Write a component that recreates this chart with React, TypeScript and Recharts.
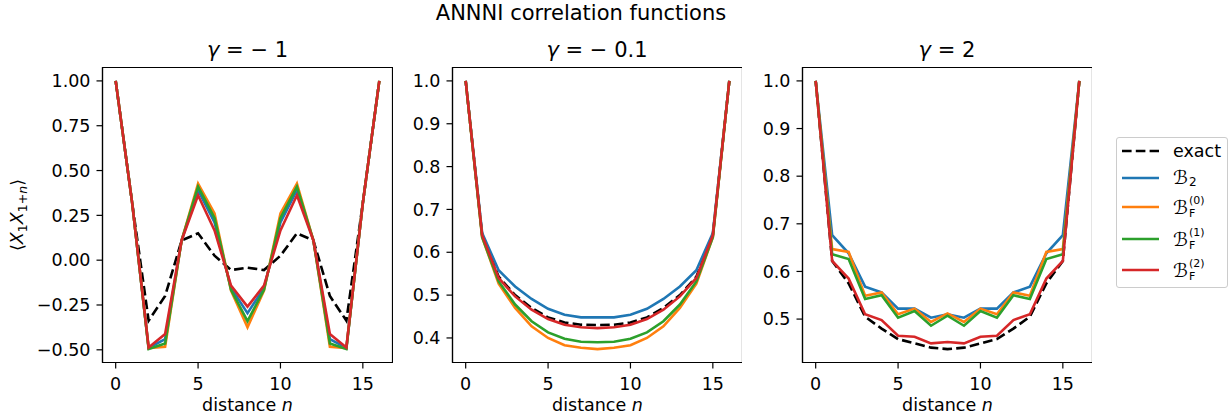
import { LineChart, Line, XAxis, YAxis, Label, ReferenceArea } from 'recharts'

const FONT = '"DejaVu Sans", sans-serif'

// distance n
const distances = [0, 1, 2, 3, 4, 5, 6, 7, 8, 9, 10, 11, 12, 13, 14, 15, 16]
const xTicks = [0, 5, 10, 15]

// gamma = -1
const exactG1 = [1.0, 0.32, -0.337, -0.2, 0.11, 0.15, 0.025, -0.055, -0.042, -0.055, 0.025, 0.15, 0.11, -0.2, -0.337, 0.32, 1.0]
const b2G1 = [1.0, 0.32, -0.49, -0.44, 0.11, 0.39, 0.21, -0.155, -0.296, -0.155, 0.21, 0.39, 0.11, -0.44, -0.49, 0.32, 1.0]
const bf0G1 = [1.0, 0.32, -0.49, -0.483, 0.11, 0.427, 0.26, -0.17, -0.375, -0.17, 0.26, 0.427, 0.11, -0.483, -0.49, 0.32, 1.0]
const bf1G1 = [1.0, 0.32, -0.496, -0.465, 0.11, 0.41, 0.235, -0.165, -0.34, -0.165, 0.235, 0.41, 0.11, -0.465, -0.496, 0.32, 1.0]
const bf2G1 = [1.0, 0.32, -0.487, -0.412, 0.11, 0.362, 0.166, -0.142, -0.259, -0.142, 0.166, 0.362, 0.11, -0.412, -0.487, 0.32, 1.0]
const yTicksG1 = [-0.5, -0.25, 0, 0.25, 0.5, 0.75, 1.0]

// gamma = -0.1
const exactG2 = [1.0, 0.64, 0.543, 0.5, 0.47, 0.448, 0.436, 0.431, 0.43, 0.431, 0.436, 0.448, 0.47, 0.5, 0.543, 0.64, 1.0]
const b2G2 = [1.0, 0.645, 0.558, 0.52, 0.491, 0.468, 0.454, 0.448, 0.448, 0.448, 0.454, 0.468, 0.491, 0.52, 0.558, 0.645, 1.0]
const bf0G2 = [1.0, 0.635, 0.527, 0.47, 0.427, 0.4, 0.383, 0.377, 0.374, 0.377, 0.383, 0.4, 0.427, 0.47, 0.527, 0.635, 1.0]
const bf1G2 = [1.0, 0.635, 0.532, 0.478, 0.439, 0.413, 0.398, 0.391, 0.39, 0.391, 0.398, 0.413, 0.439, 0.478, 0.532, 0.635, 1.0]
const bf2G2 = [1.0, 0.64, 0.54, 0.497, 0.466, 0.444, 0.431, 0.425, 0.423, 0.425, 0.431, 0.444, 0.466, 0.497, 0.54, 0.64, 1.0]
const yTicksG2 = [0.4, 0.5, 0.6, 0.7, 0.8, 0.9, 1.0]

// gamma = 2
const exactG3 = [1.0, 0.622, 0.575, 0.505, 0.48, 0.458, 0.449, 0.44, 0.437, 0.44, 0.449, 0.458, 0.48, 0.505, 0.575, 0.622, 1.0]
const b2G3 = [1.0, 0.676, 0.638, 0.568, 0.556, 0.522, 0.522, 0.503, 0.51, 0.503, 0.522, 0.522, 0.556, 0.568, 0.638, 0.676, 1.0]
const bf0G3 = [1.0, 0.647, 0.641, 0.549, 0.556, 0.51, 0.522, 0.494, 0.512, 0.494, 0.522, 0.51, 0.556, 0.549, 0.641, 0.647, 1.0]
const bf1G3 = [1.0, 0.636, 0.626, 0.542, 0.55, 0.503, 0.517, 0.486, 0.507, 0.486, 0.517, 0.503, 0.55, 0.542, 0.626, 0.636, 1.0]
const bf2G3 = [1.0, 0.622, 0.585, 0.51, 0.498, 0.465, 0.463, 0.449, 0.452, 0.449, 0.463, 0.465, 0.498, 0.51, 0.585, 0.622, 1.0]
const yTicksG3 = [0.5, 0.6, 0.7, 0.8, 0.9, 1.0]

const panelTitles = ['\u2212 1', '\u2212 0.1', '2']

const COLORS = { exact: '#000000', b2: '#1f77b4', bf0: '#ff7f0e', bf1: '#2ca02c', bf2: '#d62728' }

const PLOT_W = 290
const PLOT_H = 295
const Y_AXIS_W = 102.5
const TOP = 67.5
const CHART_H = 417
const PANEL_LEFTS = [0, 349.5, 699.5]

const fmt = (d: number) => (v: number) => (v < 0 ? '\u2212' : '') + Math.abs(v).toFixed(d)

function BLabel({ sub, sup }: { sub: string; sup?: string }) {
  return (
    <span style={{ display: 'inline-flex', alignItems: 'center' }}>
      <span style={{ fontSize: 19 }}>ℬ</span>
      {sup ? (
        <span style={{ display: 'inline-flex', flexDirection: 'column', fontSize: 11, lineHeight: '13px', marginLeft: 1 }}>
          <span>{sup}</span>
          <span>{sub}</span>
        </span>
      ) : (
        <span style={{ fontSize: 12, position: 'relative', top: 5, marginLeft: 1 }}>{sub}</span>
      )}
    </span>
  )
}

const legendItems = [
  { key: 'exact', dash: true, cy: 13, label: <span>exact</span> },
  { key: 'b2', dash: false, cy: 39.5, label: <BLabel sub="2" /> },
  { key: 'bf0', dash: false, cy: 69, label: <BLabel sub="F" sup="(0)" /> },
  { key: 'bf1', dash: false, cy: 101, label: <BLabel sub="F" sup="(1)" /> },
  { key: 'bf2', dash: false, cy: 132, label: <BLabel sub="F" sup="(2)" /> },
]

function Panel({ left, series, yTicks, decimals, yLabel }: any) {
  const rows = distances.map((n, i) => ({
    n,
    exact: series.exact[i],
    b2: series.b2[i],
    bf0: series.bf0[i],
    bf1: series.bf1[i],
    bf2: series.bf2[i],
  }))
  const all = [...series.exact, ...series.b2, ...series.bf0, ...series.bf1, ...series.bf2]
  const lo = Math.min(...all)
  const hi = Math.max(...all)
  const pad = (hi - lo) * 0.05
  const yDomain = [lo - pad, hi + pad]
  const xDomain = [-0.8, 16.8]
  const axisStyle = { stroke: '#000', strokeWidth: 1.2 }
  const tickStyle = { fill: '#000', fontSize: 17.5, fontFamily: FONT }

  return (
    <div style={{ position: 'absolute', left, top: 0 }}>
      <LineChart
        width={Y_AXIS_W + PLOT_W}
        height={CHART_H}
        data={rows}
        margin={{ top: TOP, right: 0, bottom: 0, left: 0 }}
        style={{ fontFamily: FONT }}
      >
        <XAxis
          dataKey="n"
          type="number"
          domain={xDomain}
          ticks={xTicks}
          allowDataOverflow
          height={CHART_H - TOP - PLOT_H}
          axisLine={axisStyle}
          tickLine={axisStyle}
          tickSize={6}
          tickMargin={9}
          tick={tickStyle}
        >
          <Label
            content={(p: any) => (
              <text x={p.viewBox.x + p.viewBox.width / 2} y={411} textAnchor="middle" fontSize={17.5} fontFamily={FONT} fill="#000">
                distance <tspan fontStyle="italic">n</tspan>
              </text>
            )}
          />
        </XAxis>
        <YAxis
          type="number"
          domain={yDomain}
          ticks={yTicks}
          allowDataOverflow
          width={Y_AXIS_W}
          axisLine={axisStyle}
          tickLine={axisStyle}
          tickSize={6}
          tickMargin={6}
          tick={tickStyle}
          tickFormatter={fmt(decimals)}
        >
          {yLabel ? (
            <Label
              content={(p: any) => {
                const cx = 23
                const cy = p.viewBox.y + p.viewBox.height / 2
                return (
                  <text x={cx} y={cy} transform={`rotate(-90, ${cx}, ${cy})`} textAnchor="middle" fontSize={17.5} fontFamily={FONT} fill="#000">
                    <tspan>⟨</tspan>
                    <tspan fontStyle="italic">X</tspan>
                    <tspan fontSize={12.5} dy={4}>1</tspan>
                    <tspan fontStyle="italic" dy={-4}>X</tspan>
                    <tspan fontSize={12.5} dy={4}>1+</tspan>
                    <tspan fontSize={12.5} fontStyle="italic">n</tspan>
                    <tspan dy={-4}>⟩</tspan>
                  </text>
                )
              }}
            />
          ) : null}
        </YAxis>
        <Line dataKey="exact" stroke={COLORS.exact} strokeWidth={2.6} strokeDasharray="9.6 4.2" dot={false} isAnimationActive={false} />
        <Line dataKey="b2" stroke={COLORS.b2} strokeWidth={2.6} dot={false} isAnimationActive={false} />
        <Line dataKey="bf0" stroke={COLORS.bf0} strokeWidth={2.6} dot={false} isAnimationActive={false} />
        <Line dataKey="bf1" stroke={COLORS.bf1} strokeWidth={2.6} dot={false} isAnimationActive={false} />
        <Line dataKey="bf2" stroke={COLORS.bf2} strokeWidth={2.6} dot={false} isAnimationActive={false} />
        <ReferenceArea
          x1={xDomain[0]}
          x2={xDomain[1]}
          y1={yDomain[0]}
          y2={yDomain[1]}
          fill="none"
          fillOpacity={0}
          stroke="#000"
          strokeWidth={1.2}
          ifOverflow="visible"
        />
      </LineChart>
    </div>
  )
}

export default function App() {
  return (
    <div style={{ position: 'absolute', left: 0, top: 0, width: 1232, height: 417, background: '#fff', overflow: 'hidden', fontFamily: FONT }}>
      <svg width={1232} height={66} style={{ position: 'absolute', left: 0, top: 0 }}>
        <text x={581} y={19.5} textAnchor="middle" fontSize={21} fontFamily={FONT} fill="#000">
          ANNNI correlation functions
        </text>
        {panelTitles.map((t, i) => (
          <text key={i} x={PANEL_LEFTS[i] + Y_AXIS_W + PLOT_W / 2} y={57} textAnchor="middle" fontSize={21} fontFamily={FONT} fill="#000">
            <tspan fontStyle="italic">γ</tspan> = {t}
          </text>
        ))}
      </svg>
      <Panel left={PANEL_LEFTS[0]} series={{ exact: exactG1, b2: b2G1, bf0: bf0G1, bf1: bf1G1, bf2: bf2G1 }} yTicks={yTicksG1} decimals={2} yLabel />
      <Panel left={PANEL_LEFTS[1]} series={{ exact: exactG2, b2: b2G2, bf0: bf0G2, bf1: bf1G2, bf2: bf2G2 }} yTicks={yTicksG2} decimals={1} />
      <Panel left={PANEL_LEFTS[2]} series={{ exact: exactG3, b2: b2G3, bf0: bf0G3, bf1: bf1G3, bf2: bf2G3 }} yTicks={yTicksG3} decimals={1} />
      <div
        style={{
          position: 'absolute',
          left: 1116,
          top: 137,
          width: 112,
          height: 151,
          border: '1px solid #cccccc',
          borderRadius: 3,
          boxSizing: 'border-box',
          fontSize: 17.5,
          color: '#000',
        }}
      >
        {legendItems.map((it) => (
          <div key={it.key} style={{ position: 'absolute', left: 0, top: it.cy - 15, height: 30, display: 'flex', alignItems: 'center' }}>
            <svg width={50} height={30} style={{ display: 'block' }}>
              <line
                x1={5}
                x2={42}
                y1={15}
                y2={15}
                stroke={COLORS[it.key as keyof typeof COLORS]}
                strokeWidth={2.6}
                strokeDasharray={it.dash ? '9.6 4.2' : undefined}
              />
            </svg>
            <div style={{ marginLeft: 6, lineHeight: '30px', whiteSpace: 'nowrap' }}>{it.label}</div>
          </div>
        ))}
      </div>
    </div>
  )
}
